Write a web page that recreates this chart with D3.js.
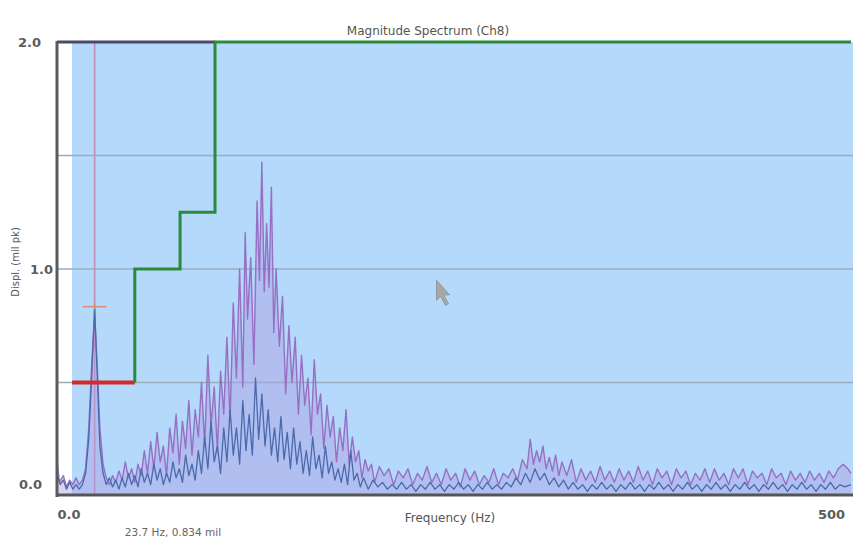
<!DOCTYPE html>
<html>
<head>
<meta charset="utf-8">
<script src="https://cdn.jsdelivr.net/npm/d3@7"></script>
<style>
  html, body { margin: 0; padding: 0; background: #ffffff; }
  svg { display: block; }
  text { font-family: "DejaVu Sans", sans-serif; }
</style>
</head>
<body>
<svg id="chart" width="853" height="542"></svg>
<script>
// Magnitude spectrum, channel 8: peak-hold trace and average trace, [Hz, mil pk]
const peakTrace = [
  [0,0.16],[1.5,0.06],[4,0.09],[6,0.04],[8,0.07],[10,0.05],[12,0.08],[14,0.05],[16,0.07],[18,0.12],
  [20,0.3],[22,0.6],[23.7,0.8],[25.5,0.55],[27,0.3],[29,0.14],[31,0.08],[33,0.05],[35,0.09],[37,0.06],
  [39,0.11],[41,0.07],[43,0.15],[45,0.08],[47,0.12],[49,0.06],[51,0.14],[53,0.09],[55,0.2],[57,0.1],
  [59,0.24],[61,0.12],[63,0.28],[65,0.15],[67,0.22],[69,0.09],[71,0.3],[73,0.19],[75,0.36],[77,0.14],
  [79,0.33],[81,0.21],[83,0.42],[85,0.18],[87,0.38],[89,0.26],[91,0.5],[93,0.22],[95,0.62],[97,0.31],
  [99,0.48],[101,0.2],[103,0.55],[105,0.36],[107,0.7],[109,0.33],[111,0.85],[113,0.52],[115,1.0],[117,0.48],
  [118.5,1.16],[120,0.78],[122,1.05],[124,0.58],[126,1.3],[127.5,0.95],[129,1.47],[130.5,0.9],[132,1.2],[133.5,0.92],
  [135,1.36],[136.5,0.72],[138,1.0],[140,0.66],[142,0.88],[144,0.45],[146,0.75],[148,0.5],[150,0.7],[152,0.36],
  [154,0.62],[156,0.4],[158,0.52],[160,0.27],[162,0.6],[164,0.36],[166,0.45],[168,0.21],[170,0.4],[172,0.26],
  [174,0.35],[176,0.15],[178,0.3],[180,0.2],[182,0.38],[184,0.14],[186,0.26],[188,0.15],[190,0.2],[192,0.08],
  [194,0.16],[196,0.11],[198,0.14],[200,0.06],[203,0.13],[206,0.09],[209,0.12],[212,0.05],[215,0.11],[218,0.08],
  [221,0.12],[224,0.05],[227,0.1],[230,0.07],[233,0.13],[236,0.06],[239,0.1],[242,0.05],[245,0.12],[248,0.07],
  [251,0.1],[254,0.04],[257,0.12],[260,0.07],[263,0.11],[266,0.05],[269,0.09],[272,0.06],[275,0.12],[278,0.05],
  [281,0.1],[284,0.08],[287,0.12],[290,0.07],[293,0.16],[296,0.12],[298,0.25],[300,0.14],[302,0.2],[304,0.15],
  [306,0.22],[308,0.12],[310,0.17],[312,0.11],[314,0.18],[316,0.09],[318,0.15],[321,0.09],[324,0.16],[327,0.06],
  [330,0.12],[333,0.07],[336,0.11],[339,0.06],[342,0.13],[345,0.07],[348,0.11],[351,0.06],[354,0.12],[357,0.07],
  [360,0.11],[363,0.06],[366,0.13],[369,0.07],[372,0.11],[375,0.05],[378,0.12],[381,0.08],[384,0.11],[387,0.05],
  [390,0.12],[393,0.08],[396,0.11],[399,0.05],[402,0.1],[405,0.07],[408,0.12],[411,0.06],[414,0.12],[417,0.07],
  [420,0.1],[423,0.05],[426,0.12],[429,0.08],[432,0.12],[435,0.05],[438,0.11],[441,0.08],[444,0.1],[447,0.05],
  [450,0.12],[453,0.08],[456,0.1],[459,0.05],[462,0.11],[465,0.07],[468,0.1],[471,0.06],[474,0.11],[477,0.07],
  [480,0.1],[483,0.06],[486,0.11],[489,0.08],[492,0.12],[495,0.14],[498,0.12],[500,0.1]
];
const avgTrace = [
  [0,0.1],[2,0.05],[4,0.07],[6,0.03],[8,0.06],[10,0.03],[12,0.05],[14,0.03],[16,0.05],[18,0.1],
  [20,0.25],[22,0.55],[23.7,0.834],[25.5,0.5],[27,0.22],[29,0.1],[31,0.05],[33,0.08],[35,0.04],[37,0.07],
  [39,0.03],[41,0.08],[43,0.04],[45,0.1],[47,0.05],[49,0.09],[51,0.04],[53,0.12],[55,0.06],[57,0.1],
  [59,0.05],[61,0.14],[63,0.07],[65,0.12],[67,0.05],[69,0.1],[71,0.06],[73,0.15],[75,0.08],[77,0.12],
  [79,0.06],[81,0.18],[83,0.09],[85,0.14],[87,0.07],[89,0.2],[91,0.1],[93,0.26],[95,0.12],[97,0.33],
  [99,0.15],[101,0.22],[103,0.1],[105,0.3],[107,0.15],[109,0.38],[111,0.18],[113,0.3],[115,0.14],[117,0.42],
  [119,0.2],[121,0.36],[123,0.18],[125,0.52],[127,0.25],[129,0.45],[131,0.22],[133,0.38],[135,0.18],[137,0.3],
  [139,0.15],[141,0.35],[143,0.16],[145,0.28],[147,0.12],[149,0.3],[151,0.14],[153,0.24],[155,0.1],[157,0.2],
  [159,0.09],[161,0.26],[163,0.12],[165,0.18],[167,0.08],[169,0.22],[171,0.1],[173,0.15],[175,0.07],[177,0.12],
  [179,0.06],[181,0.14],[183,0.05],[185,0.2],[187,0.07],[189,0.1],[191,0.04],[193,0.08],[196,0.03],[199,0.07],
  [202,0.04],[205,0.06],[208,0.03],[211,0.05],[214,0.03],[217,0.06],[220,0.03],[223,0.05],[226,0.02],[229,0.05],
  [232,0.03],[235,0.06],[238,0.03],[241,0.05],[244,0.02],[247,0.05],[250,0.03],[253,0.06],[256,0.03],[259,0.05],
  [262,0.02],[265,0.05],[268,0.03],[271,0.06],[274,0.03],[277,0.05],[280,0.03],[283,0.06],[286,0.04],[289,0.08],
  [292,0.05],[295,0.1],[298,0.06],[301,0.12],[304,0.07],[307,0.1],[310,0.05],[313,0.08],[316,0.04],[319,0.07],
  [322,0.03],[325,0.06],[328,0.03],[331,0.05],[334,0.02],[337,0.05],[340,0.03],[343,0.06],[346,0.03],[349,0.05],
  [352,0.02],[355,0.05],[358,0.03],[361,0.06],[364,0.03],[367,0.05],[370,0.02],[373,0.05],[376,0.03],[379,0.06],
  [382,0.03],[385,0.05],[388,0.02],[391,0.05],[394,0.03],[397,0.06],[400,0.03],[403,0.05],[406,0.02],[409,0.05],
  [412,0.03],[415,0.06],[418,0.03],[421,0.05],[424,0.02],[427,0.05],[430,0.03],[433,0.06],[436,0.03],[439,0.05],
  [442,0.02],[445,0.05],[448,0.03],[451,0.06],[454,0.03],[457,0.05],[460,0.02],[463,0.05],[466,0.03],[469,0.06],
  [472,0.03],[475,0.05],[478,0.02],[481,0.05],[484,0.03],[487,0.06],[490,0.03],[493,0.05],[496,0.04],[500,0.05]
];

// Alarm band: red low band, then green stepped limit
const lowBand = [9.5, 49];
const lowBandLevel = 0.5;
const limitEdgesHz = [49, 77.5, 99.5];
const limitLevels = [0.5, 1.0, 1.25, 2.0];

// Cursor readout
const cursorHz = 23.7;
const cursorValue = 0.834;
const cursorUnit = "mil";

// Axis ticks
const yTickValues = [0, 1, 2];
const yGridValues = [0.5, 1.0, 1.5];
const xTickLabels = [{v: 0, t: "0.0"}, {v: 500, t: "500"}];
const titleText = "Magnitude Spectrum (Ch8)";
const xTitle = "Frequency (Hz)";
const yTitle = "Displ. (mil pk)";
const pointerAt = [239, 0.95];

const svg = d3.select("#chart");
const W = 853;
const pLeft = 57, pRight = 851, pTop = 42, pBottom = 496;
const x = d3.scaleLinear().domain([0, 500]).range([pLeft, pRight]);
const y = d3.scaleLinear().domain([0, 2]).range([pBottom, pTop]);

// plot background (white margin strip at the left edge)
svg.append("rect").attr("x", pLeft).attr("y", pTop).attr("width", W - pLeft).attr("height", pBottom - pTop)
  .attr("fill", "#ffffff");
svg.append("rect").attr("x", pLeft + 15).attr("y", pTop).attr("width", W - pLeft - 15).attr("height", pBottom - pTop)
  .attr("fill", "#b4d9fb");

// horizontal grid
svg.append("g").selectAll("line").data(yGridValues).join("line")
  .attr("x1", pLeft).attr("x2", W)
  .attr("y1", d => y(d)).attr("y2", d => y(d))
  .attr("stroke", "#98adbd").attr("stroke-width", 1.5);

const line = d3.line().x(d => x(d[0])).y(d => y(d[1]));
const area = d3.area().x(d => x(d[0])).y0(y(0)).y1(d => y(d[1]));

svg.append("clipPath").attr("id", "plotclip")
  .append("rect").attr("x", pLeft).attr("y", pTop).attr("width", W - pLeft).attr("height", pBottom - pTop);

const plot = svg.append("g").attr("clip-path", "url(#plotclip)");

// cursor line
plot.append("line")
  .attr("x1", x(cursorHz)).attr("x2", x(cursorHz))
  .attr("y1", pTop).attr("y2", pBottom)
  .attr("stroke", "#c58db4").attr("stroke-width", 1.6);

// spectrum traces
plot.append("path").datum(peakTrace).attr("d", area)
  .attr("fill", "#ab9fe2").attr("fill-opacity", 0.45);
plot.append("path").datum(peakTrace).attr("d", line)
  .attr("fill", "none").attr("stroke", "#9670c4").attr("stroke-width", 1.4).attr("stroke-linejoin", "round");
plot.append("path").datum(avgTrace).attr("d", line)
  .attr("fill", "none").attr("stroke", "#4a6aac").attr("stroke-width", 1.3).attr("stroke-linejoin", "round");

// cursor marker
const cm = plot.append("g").attr("stroke", "#d8907c").attr("stroke-width", 1.5);
cm.append("line").attr("x1", x(cursorHz) - 12).attr("x2", x(cursorHz) + 12)
  .attr("y1", y(cursorValue)).attr("y2", y(cursorValue));
cm.append("line").attr("x1", x(cursorHz)).attr("x2", x(cursorHz))
  .attr("y1", y(cursorValue) - 3).attr("y2", y(cursorValue) + 3);

// alarm limits
plot.append("line")
  .attr("x1", x(lowBand[0])).attr("x2", x(lowBand[1]))
  .attr("y1", y(lowBandLevel)).attr("y2", y(lowBandLevel))
  .attr("stroke", "#d42a2a").attr("stroke-width", 4);

const limitPts = [];
limitLevels.forEach((lv, i) => {
  const x0 = i === 0 ? lowBand[1] : limitEdgesHz[i - 1];
  const x1 = i < limitEdgesHz.length ? limitEdgesHz[i] : 500;
  limitPts.push([x0, lv], [x1, lv]);
});
// top border of the frame up to where the limit reaches full scale
svg.append("line").attr("x1", pLeft).attr("x2", x(limitEdgesHz[2]))
  .attr("y1", pTop).attr("y2", pTop).attr("stroke", "#4a4a66").attr("stroke-width", 3);
svg.append("path").datum(limitPts).attr("d", line)
  .attr("fill", "none").attr("stroke", "#2b8a3c").attr("stroke-width", 3);

// mouse pointer
const px = x(pointerAt[0]), py = y(pointerAt[1]);
svg.append("path")
  .attr("d", `M${px},${py} l0,20 l4,-4 l5,9 l3,-1.5 l-5,-9 l6,0 Z`)
  .attr("fill", "#a8a8a8").attr("stroke", "#8c8c8c").attr("stroke-width", 0.8);

// frame: left and bottom axis lines
svg.append("line").attr("x1", pLeft).attr("x2", pLeft).attr("y1", pTop - 1).attr("y2", pBottom + 1)
  .attr("stroke", "#5a5a5a").attr("stroke-width", 3);
svg.append("line").attr("x1", pLeft).attr("x2", W).attr("y1", pBottom - 1).attr("y2", pBottom - 1)
  .attr("stroke", "#555555").attr("stroke-width", 3);

// labels
svg.append("text").attr("x", 428).attr("y", 35).attr("text-anchor", "middle")
  .attr("font-size", 12).attr("fill", "#555").text(titleText);

const yAnchorX = { 0: 42, 1: 53, 2: 41 };
svg.append("g").selectAll("text").data(yTickValues).join("text")
  .attr("x", d => yAnchorX[d])
  .attr("y", d => d === 0 ? y(d) - 7 : y(d) + 5)
  .attr("text-anchor", "end").attr("font-size", 13)
  .attr("fill", "#5c5c5c").attr("font-weight", "bold")
  .text(d => d.toFixed(1));

svg.append("g").selectAll("text").data(xTickLabels).join("text")
  .attr("x", d => d.v === 0 ? x(d.v) + 12 : x(d.v) - 33)
  .attr("y", 519).attr("text-anchor", d => d.v === 0 ? "middle" : "start")
  .attr("font-size", 13).attr("fill", "#5c5c5c").attr("font-weight", "bold")
  .text(d => d.t);

svg.append("text").attr("x", 450).attr("y", 522).attr("text-anchor", "middle")
  .attr("font-size", 12).attr("fill", "#555").text(xTitle);

svg.append("text").attr("x", 173).attr("y", 536).attr("text-anchor", "middle")
  .attr("font-size", 10.5).attr("fill", "#666")
  .text(`${cursorHz} Hz, ${cursorValue} ${cursorUnit}`);

svg.append("text").attr("transform", "translate(19,262) rotate(-90)")
  .attr("text-anchor", "middle").attr("font-size", 10).attr("fill", "#555")
  .text(yTitle);
</script>
</body>
</html>
